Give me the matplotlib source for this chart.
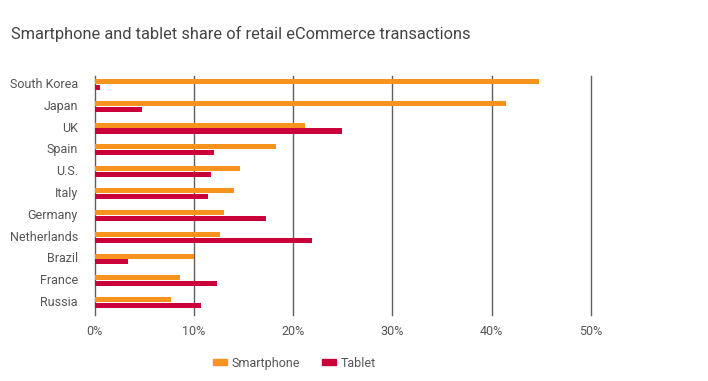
import numpy as np
import matplotlib.pyplot as plt
from matplotlib.patches import Patch

plt.rcParams['font.family'] = ['Roboto', 'DejaVu Sans']

countries = ['South Korea', 'Japan', 'UK', 'Spain', 'U.S.', 'Italy',
             'Germany', 'Netherlands', 'Brazil', 'France', 'Russia']
smartphone = [44.8, 41.5, 21.2, 18.3, 14.7, 14.1, 13.0, 12.6, 10.0, 8.6, 7.7]
tablet = [0.55, 4.8, 24.9, 12.0, 11.7, 11.4, 17.3, 21.9, 3.4, 12.3, 10.7]
xticks = [0, 10, 20, 30, 40, 50]

orange = '#F7931E'
red = '#C9003A'
text_col = '#555555'

fig = plt.figure(figsize=(7.08, 3.81), dpi=100)
ax = fig.add_axes([0.1335, 0.173, 0.701, 0.6275])

y = np.arange(len(countries))
h = 0.23
ax.barh(y - 0.135, smartphone, height=h, color=orange, zorder=3)
ax.barh(y + 0.135, tablet, height=h, color=red, zorder=3)

ax.set_xlim(0, 50)
ax.set_ylim(10.57, -0.385)
ax.set_xticks(xticks)
ax.set_xticklabels([f'{v}%' for v in xticks])
ax.set_yticks(y - 0.07)
ax.set_yticklabels(countries)
ax.tick_params(length=0, labelsize=9, colors=text_col)
ax.tick_params(axis='y', pad=12)
ax.tick_params(axis='x', pad=7)
ax.grid(axis='x', color='#5f5f5f', linewidth=1, zorder=0)
for gl in ax.get_xgridlines():
    gl.set_clip_on(False)
for s in ax.spines.values():
    s.set_visible(False)

fig.text(0.016, 0.911, 'Smartphone and tablet share of retail eCommerce transactions',
         fontsize=11.8, color='#444444', va='center', ha='left')

handles = [Patch(color=orange, label='Smartphone'), Patch(color=red, label='Tablet')]
fig.legend(handles=handles, loc='center', bbox_to_anchor=(0.416, 0.047), ncol=2,
           frameon=False, fontsize=9, labelcolor=text_col, handlelength=1.1,
           handleheight=0.35, handletextpad=0.35, columnspacing=1.8)

fig.savefig('out.png', dpi=100)
